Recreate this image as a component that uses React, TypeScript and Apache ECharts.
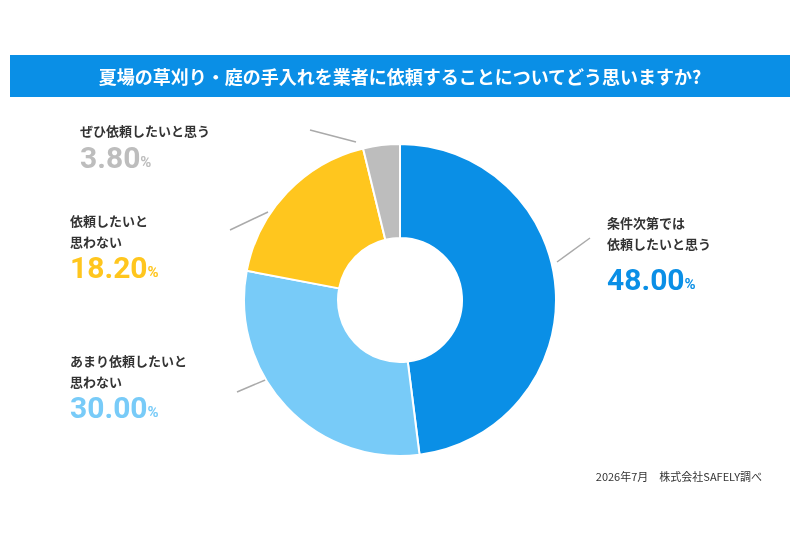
import React, { useEffect, useRef } from "react";
import * as echarts from "echarts";

const categories = ["条件次第では\n依頼したいと思う", "あまり依頼したいと\n思わない", "依頼したいと\n思わない", "ぜひ依頼したいと思う"];
const values = [48.0, 30.0, 18.2, 3.8];
const colors = ["#0A8FE6", "#78CBF8", "#FFC61E", "#BDBDBD"];

export default function App() {
  const ref = useRef<HTMLDivElement>(null);
  useEffect(() => {
    const chart = echarts.init(ref.current!, null, { renderer: "svg" });
    const font = "'Noto Sans CJK JP', sans-serif";
    const lab = (i: number, x: number, y: number, gap: number) => [
      { type: "text", left: x, top: y, style: { text: categories[i], font: `bold 13px ${font}`, fill: "#333", lineHeight: 21 } },
      {
        type: "text", left: x, top: y + gap,
        style: {
          text: `{n|${values[i].toFixed(2)}}{p|%}`,
          fill: colors[i],
          rich: {
            n: { fontSize: 30, fontWeight: "bold", fill: colors[i], color: colors[i], fontFamily: "Roboto, sans-serif" },
            p: { fontSize: 15, fontWeight: "bold", fill: colors[i], color: colors[i], fontFamily: "Roboto, sans-serif", padding: [10, 0, 0, 0] },
          },
        },
      },
    ];
    const line = (x1: number, y1: number, x2: number, y2: number) => ({
      type: "line", shape: { x1, y1, x2, y2 }, style: { stroke: "#aaa", lineWidth: 1.5 },
    });
    chart.setOption({
      animation: false,
      graphic: [
        { type: "rect", shape: { x: 10, y: 55, width: 780, height: 42 }, style: { fill: "#0A8FE6" } },
        { type: "text", x: 400, y: 76, style: { text: "夏場の草刈り・庭の手入れを業者に依頼することについてどう思いますか?", font: `bold 18px ${font}`, fill: "#fff", align: "center", verticalAlign: "middle" } },
        ...lab(0, 607, 212, 52),
        ...lab(1, 70, 350, 42),
        ...lab(2, 70, 210, 42),
        ...lab(3, 80, 120, 22),
        line(557, 262, 590, 238),
        line(237, 392, 270, 378),
        line(230, 230, 268, 212),
        line(310, 130, 356, 142),
        { type: "text", right: 38, top: 470, style: { text: "2026年7月　株式会社SAFELY調べ", font: `11px ${font}`, fill: "#333" } },
      ],
      series: [{
        type: "pie", center: [400, 300], radius: [62, 156], startAngle: 90, clockwise: true,
        label: { show: false }, labelLine: { show: false },
        itemStyle: { borderColor: "#fff", borderWidth: 2 },
        data: values.map((v, i) => ({ value: v, name: categories[i], itemStyle: { color: colors[i] } })),
      }],
    });
    return () => chart.dispose();
  }, []);
  return <div ref={ref} style={{ position: "fixed", left: 0, top: 0, width: 800, height: 533 }} />;
}
